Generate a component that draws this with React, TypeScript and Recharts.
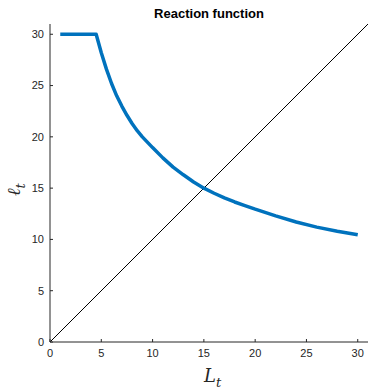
import React from "react";
import { LineChart, Line, XAxis, YAxis } from "recharts";

const reactionL = [1, 4.5, 5, 5.5, 6, 6.5, 7, 7.5, 8, 8.5, 9, 10, 11, 12, 13, 14, 15, 16, 17, 18, 19, 20, 22, 24, 26, 28, 30];
const reactionEll = [30, 30, 28.2, 26.6, 25.2, 24.0, 23.0, 22.1, 21.3, 20.6, 20.0, 18.95, 17.95, 17.05, 16.3, 15.6, 15.0, 14.5, 14.05, 13.65, 13.3, 12.95, 12.3, 11.7, 11.2, 10.8, 10.45];
const diagL = [0, 31];
const diagEll = [0, 31];
const ticks = [0, 5, 10, 15, 20, 25, 30];

const axisColor = "#262626";
const font = "'Liberation Sans', Arial, sans-serif";

export default function App() {
  const reaction = reactionL.map((x, i) => ({ x, y: reactionEll[i] }));
  const diagonal = diagL.map((x, i) => ({ x, y: diagEll[i] }));
  const tickStyle = { fill: axisColor, fontSize: 11, fontFamily: font };

  return (
    <div style={{ position: "absolute", left: 0, top: 0, width: 368, height: 389, background: "#fff" }}>
      <LineChart width={368} height={389} margin={{ top: 24, right: 0, bottom: 0, left: 0 }}>
        <XAxis
          dataKey="x"
          type="number"
          domain={[0, 31]}
          ticks={ticks}
          height={47}
          tickSize={-3}
          tickMargin={10}
          stroke={axisColor}
          tick={tickStyle}
        />
        <XAxis
          xAxisId="top"
          orientation="top"
          type="number"
          domain={[0, 31]}
          ticks={ticks}
          height={0}
          tickSize={-3}
          stroke={axisColor}
          tick={false}
        />
        <YAxis
          type="number"
          domain={[0, 31]}
          ticks={ticks}
          width={50}
          tickSize={-3}
          tickMargin={9}
          stroke={axisColor}
          tick={tickStyle}
        />
        <YAxis
          yAxisId="right"
          orientation="right"
          type="number"
          domain={[0, 31]}
          ticks={ticks}
          width={0}
          tickSize={-3}
          stroke={axisColor}
          tick={false}
        />
        <Line
          data={diagonal}
          dataKey="y"
          stroke="#000"
          strokeWidth={1}
          dot={false}
          type="linear"
          isAnimationActive={false}
        />
        <Line
          data={reaction}
          dataKey="y"
          stroke="#0072BD"
          strokeWidth={3.5}
          strokeLinejoin="round"
          dot={false}
          type="linear"
          isAnimationActive={false}
        />
      </LineChart>
      <svg
        width={368}
        height={389}
        style={{ position: "absolute", left: 0, top: 0, pointerEvents: "none" }}
      >
        <text x={209} y={18} textAnchor="middle" fontSize={13} fontWeight="bold" fontFamily={font} fill="#000">
          Reaction function
        </text>
        <text x={204} y={382} fontSize={18} fontStyle="italic" fontFamily="'DejaVu Serif', serif" fill={axisColor}>
          L<tspan fontSize={13} dy={5}>t</tspan>
        </text>
        <text
          x={0}
          y={0}
          transform="translate(20 196) rotate(-90)"
          fontSize={18}
          fontStyle="italic"
          fontFamily="'DejaVu Serif', serif"
          fill={axisColor}
        >
          ℓ<tspan fontSize={13} dy={5}>t</tspan>
        </text>
      </svg>
    </div>
  );
}
